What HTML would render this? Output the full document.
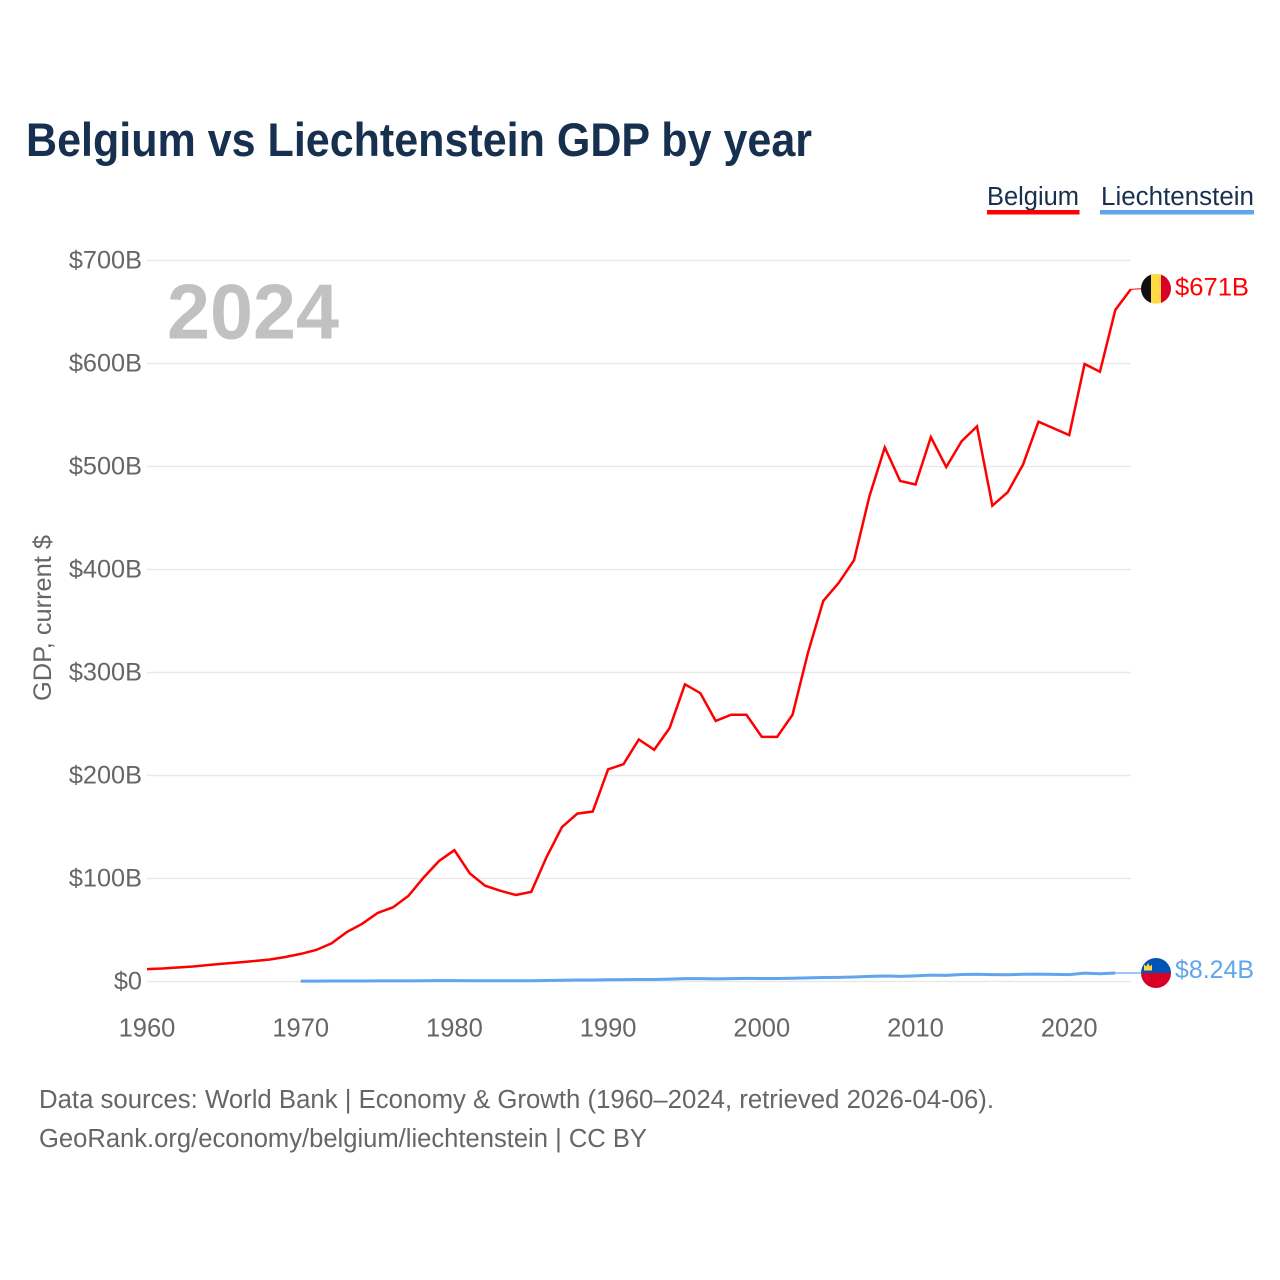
<!DOCTYPE html>
<html lang="en">
<head>
<meta charset="utf-8">
<title>Belgium vs Liechtenstein GDP by year</title>
<style>
  html, body { margin: 0; padding: 0; background: #fff; }
  svg { display: block; font-family: "Liberation Sans", sans-serif; }
</style>
</head>
<body>
<svg id="chart" xmlns="http://www.w3.org/2000/svg" width="1280" height="1280" viewBox="0 0 1280 1280">
  <rect width="1280" height="1280" fill="#ffffff"/>
  <text x="26" y="156" font-size="47" font-weight="700" fill="#17304f" textLength="786" lengthAdjust="spacingAndGlyphs">Belgium vs Liechtenstein GDP by year</text>

  <g>
    <text x="987" y="205" font-size="25.5" fill="#17304f" textLength="92" lengthAdjust="spacingAndGlyphs">Belgium</text>
    <rect x="987" y="210" width="92.5" height="4.5" fill="#ff0000"/>
  </g>
  <g>
    <text x="1101" y="205" font-size="25.5" fill="#17304f" textLength="153" lengthAdjust="spacingAndGlyphs">Liechtenstein</text>
    <rect x="1100" y="210" width="154" height="4.5" fill="#60a5ee"/>
  </g>

  <g id="grid"></g>
  <g id="yticks"></g>
  <g id="xticks"></g>

  <text x="167" y="338.5" font-size="78" font-weight="700" fill="#c1c1c1" textLength="172" lengthAdjust="spacingAndGlyphs">2024</text>
  <text transform="translate(51,701) rotate(-90)" font-size="25" fill="#666666" textLength="166" lengthAdjust="spacingAndGlyphs">GDP, current $</text>

  <g id="series"></g>
  <g id="ends"></g>

  <text x="39" y="1108" font-size="25.5" fill="#666666" textLength="955" lengthAdjust="spacingAndGlyphs">Data sources: World Bank | Economy &amp; Growth (1960–2024, retrieved 2026-04-06).</text>
  <text x="39" y="1147" font-size="25.5" fill="#666666" textLength="608" lengthAdjust="spacingAndGlyphs">GeoRank.org/economy/belgium/liechtenstein | CC BY</text>
</svg>
<script>
const belgiumStartYear = 1960;
const belgiumValues = [12, 12.6, 13.6, 14.6, 16, 17.4, 18.6, 19.9, 21.4, 23.8, 26.8, 30.6, 37, 48, 56, 66.5, 72, 83, 101, 117, 127.5, 105, 93, 88, 84, 87, 121, 150, 163, 165, 206, 211, 235, 225, 246, 288.5, 280, 253, 259, 259, 237.5, 237.5, 259, 319, 369.5, 387, 409, 471, 518.5, 486, 482.5, 528.5, 499.5, 524.5, 539, 462, 475, 502, 543.5, 537, 530.5, 599.5, 592, 652, 672];
const liechtensteinStartYear = 1970;
const liechtensteinValues = [0.4, 0.42, 0.45, 0.5, 0.52, 0.55, 0.58, 0.65, 0.75, 0.8, 0.85, 0.75, 0.72, 0.7, 0.7, 0.72, 0.95, 1.25, 1.5, 1.5, 1.7, 1.8, 2.0, 2.0, 2.3, 2.8, 2.8, 2.6, 2.8, 3.0, 2.9, 2.9, 3.1, 3.5, 3.9, 4.0, 4.4, 5.0, 5.4, 5.0, 5.5, 6.2, 5.9, 6.8, 7.0, 6.7, 6.6, 7.0, 7.2, 6.9, 6.7, 8.1, 7.5, 8.24];
const yTickValues = [0, 100, 200, 300, 400, 500, 600, 700];
const yTickLabels = ["$0", "$100B", "$200B", "$300B", "$400B", "$500B", "$600B", "$700B"];
const xTickValues = [1960, 1970, 1980, 1990, 2000, 2010, 2020];
const xTickLabels = ["1960", "1970", "1980", "1990", "2000", "2010", "2020"];
const belgiumEndLabel = "$671B";
const liechtensteinEndLabel = "$8.24B";

const NS = "http://www.w3.org/2000/svg";
function xScale(year) { return 147 + (year - 1960) * 15.37; }
function yScale(value) { return 981.5 - value * 1.03; }
function make(tag, parent, attrs) {
  const el = document.createElementNS(NS, tag);
  for (const k in attrs) el.setAttribute(k, attrs[k]);
  parent.appendChild(el);
  return el;
}
function linePoints(startYear, values) {
  return values.map((v, i) => xScale(startYear + i).toFixed(2) + "," + yScale(v).toFixed(2)).join(" ");
}

const grid = document.getElementById("grid");
const yticks = document.getElementById("yticks");
yTickValues.forEach((v, i) => {
  const line = make("line", grid, { x1: 147, x2: 1131, y1: yScale(v), y2: yScale(v), stroke: "#e9e9e9", "stroke-width": 1.5 });
  
  
  const t = make("text", yticks, { x: 142, y: yScale(v) + 8, "text-anchor": "end", "font-size": 25.3, fill: "#666666" });
  
  
  t.textContent = yTickLabels[i];
});

const xticks = document.getElementById("xticks");
xTickValues.forEach((v, i) => {
  const t = make("text", xticks, { x: xScale(v), y: 1036.5, "text-anchor": "middle", "font-size": 25.5, fill: "#666666" });
  
  
  t.textContent = xTickLabels[i];
});

const series = document.getElementById("series");
const bLine = make("polyline", series, { points: linePoints(belgiumStartYear, belgiumValues), fill: "none", stroke: "#ff0000", "stroke-width": 2.5, "stroke-linejoin": "miter" });


const lLine = make("polyline", series, { points: linePoints(liechtensteinStartYear, liechtensteinValues), fill: "none", stroke: "#60a5ee", "stroke-width": 3 });



const ends = document.getElementById("ends");
const flagX = 1156;

// Belgium end marker
const bLast = belgiumValues[belgiumValues.length - 1];
const bY = yScale(bLast) - 0.6;
const bLastX = xScale(belgiumStartYear + belgiumValues.length - 1);
const bConn = make("line", ends, { x1: bLastX, y1: yScale(bLast), x2: flagX - 15, y2: bY, stroke: "#ff0000", "stroke-width": 1 });


const defs = make("defs", ends, {});
const cpB = make("clipPath", defs, { id: "clip-be" });
make("circle", cpB, { cx: flagX, cy: bY, r: 15 });
const cpL = make("clipPath", defs, { id: "clip-li" });
const lLast = liechtensteinValues[liechtensteinValues.length - 1];
const lY = yScale(lLast);
make("circle", cpL, { cx: flagX, cy: lY, r: 15 });

const bFlag = make("g", ends, { "clip-path": "url(#clip-be)" });


make("rect", bFlag, { x: flagX - 15, y: bY - 15, width: 10.5, height: 30, fill: "#111111" });
make("rect", bFlag, { x: flagX - 5, y: bY - 15, width: 10.5, height: 30, fill: "#ffda44" });
make("rect", bFlag, { x: flagX + 5, y: bY - 15, width: 10, height: 30, fill: "#d80027" });
const bLabel = make("text", ends, { x: 1175, y: bY + 7, "font-size": 25, fill: "#ff0000", textLength: 74, lengthAdjust: "spacingAndGlyphs" });


bLabel.textContent = belgiumEndLabel;

// Liechtenstein end marker
const lLastX = xScale(liechtensteinStartYear + liechtensteinValues.length - 1);
const lConn = make("line", ends, { x1: lLastX, y1: lY, x2: flagX - 15, y2: lY, stroke: "#60a5ee", "stroke-width": 1.2 });


const lFlag = make("g", ends, { "clip-path": "url(#clip-li)" });


make("rect", lFlag, { x: flagX - 15, y: lY - 15, width: 30, height: 15, fill: "#0052b4" });
make("rect", lFlag, { x: flagX - 15, y: lY, width: 30, height: 15, fill: "#d80027" });
make("path", lFlag, { d: "M" + (flagX - 12) + " " + (lY - 2.5) + "v-6l2.2 2 1.8-3.5 1.8 3.5 2.2-2v6z", fill: "#ffda44" });
const lLabel = make("text", ends, { x: 1175, y: lY + 5, "font-size": 25, fill: "#60a5ee", textLength: 79, lengthAdjust: "spacingAndGlyphs" });


lLabel.textContent = liechtensteinEndLabel;
</script>
</body>
</html>
